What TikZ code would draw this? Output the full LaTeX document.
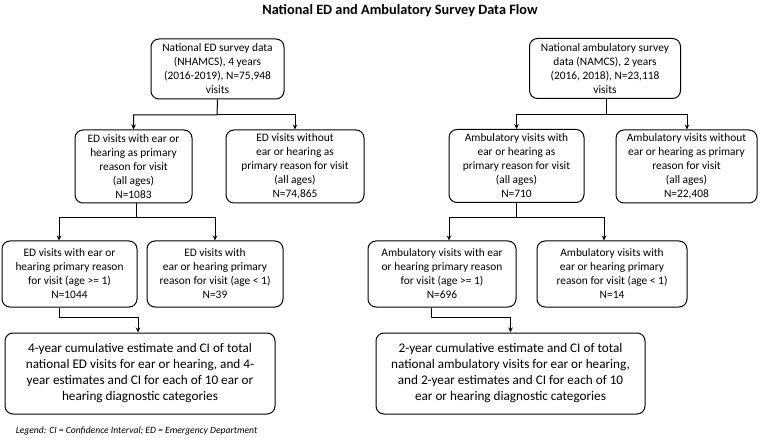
\documentclass[tikz,border=0pt]{standalone}
\usepackage{fontspec}
\setmainfont{Carlito}
\usetikzlibrary{arrows.meta}

\begin{document}
\begin{tikzpicture}[x=1pt,y=-1pt,
  box/.style={draw,rounded corners=8pt,align=center,inner sep=0pt,
    font=\fontsize{11.4}{14}\selectfont},
  bigbox/.style={box,font=\fontsize{13.2}{16}\selectfont},
  flow/.style={-{Stealth[length=5pt,width=4.5pt]}},
  line width=1pt]
  \useasboundingbox (0,0) rectangle (760,438);
  \node[font=\bfseries\fontsize{14.3}{16}\selectfont] (title) at (400,11)
    {National ED and Ambulatory Survey Data Flow};

  \node[box,minimum width=133,minimum height=60] (edData) at (217.5,69)
    {National ED survey data\\(NHAMCS), 4 years\\(2016-2019), N=75,948\\visits};
  \node[box,minimum width=117,minimum height=73] (edWith) at (133.5,166.5)
    {ED visits with ear or\\hearing as primary\\reason for visit\\(all ages)\\N=1083};
  \node[box,minimum width=138,minimum height=73] (edWithout) at (295,166.5)
    {ED visits without\\ear or hearing as\\primary reason for visit\\(all ages)\\N=74,865};
  \node[box,minimum width=135,minimum height=66] (edAdult) at (69.5,274)
    {ED visits with ear or\\hearing primary reason\\for visit (age >= 1)\\N=1044};
  \node[box,minimum width=136,minimum height=66] (edInfant) at (215,274)
    {ED visits with\\ear or hearing primary\\reason for visit (age < 1)\\N=39};
  \node[bigbox,minimum width=270,minimum height=81] (edEst) at (140,373.5)
    {4-year cumulative estimate and CI of total\\national ED visits for ear or hearing, and 4-\\year estimates and CI for each of 10 ear or\\hearing diagnostic categories};

  \node[box,minimum width=151,minimum height=60] (ambData) at (605,68.5)
    {National ambulatory survey\\data (NAMCS), 2 years\\(2016, 2018), N=23,118\\visits};
  \node[box,minimum width=135,minimum height=73] (ambWith) at (516.5,166)
    {Ambulatory visits with\\ear or hearing as\\primary reason for visit\\(all ages)\\N=710};
  \node[box,minimum width=141,minimum height=73] (ambWithout) at (686.5,166.5)
    {Ambulatory visits without\\ear or hearing as primary\\reason for visit\\(all ages)\\N=22,408};
  \node[box,minimum width=148,minimum height=66] (ambAdult) at (442,274)
    {Ambulatory visits with ear\\or hearing primary reason\\for visit (age >= 1)\\N=696};
  \node[box,minimum width=150,minimum height=66] (ambInfant) at (612,274)
    {Ambulatory visits with\\ear or hearing primary\\reason for visit (age < 1)\\N=14};
  \node[bigbox,minimum width=269,minimum height=81] (ambEst) at (510.5,373.5)
    {2-year cumulative estimate and CI of total\\national ambulatory visits for ear or hearing,\\and 2-year estimates and CI for each of 10\\ear or hearing diagnostic categories};

  \node[anchor=west,font=\itshape\fontsize{9.6}{12}\selectfont] (legend) at (12,431)
    {Legend: CI = Confidence Interval; ED = Emergency Department};

  \coordinate (edSplit) at (217,115);
  \coordinate (edSplit2) at (136,218);
  \draw[flow] (edData.south) -- (edSplit) -| (edWith.north);
  \draw[flow] (edSplit) -| (edWithout.north);
  \draw[flow] ([xshift=2.5]edWith.south) -- (edSplit2) -| ([xshift=-10.5]edAdult.north);
  \draw[flow] (edSplit2) -| (edInfant.north);
  \draw[flow] ([xshift=-10.5]edAdult.south) -- ++(0,10) -| ([xshift=-2]edEst.north);

  \coordinate (ambSplit) at (606,115);
  \coordinate (ambSplit2) at (516,218);
  \draw[flow] ([xshift=1]ambData.south) -- (ambSplit) -| (ambWith.north);
  \draw[flow] (ambSplit) -| ([xshift=0.5]ambWithout.north);
  \draw[flow] ([xshift=-0.5]ambWith.south) -- (ambSplit2) -| ([xshift=7]ambAdult.north);
  \draw[flow] (ambSplit2) -| ([xshift=-8]ambInfant.north);
  \draw[flow] ([xshift=-11]ambAdult.south) -- ++(0,10) -| (ambEst.north);
\end{tikzpicture}
\end{document}
